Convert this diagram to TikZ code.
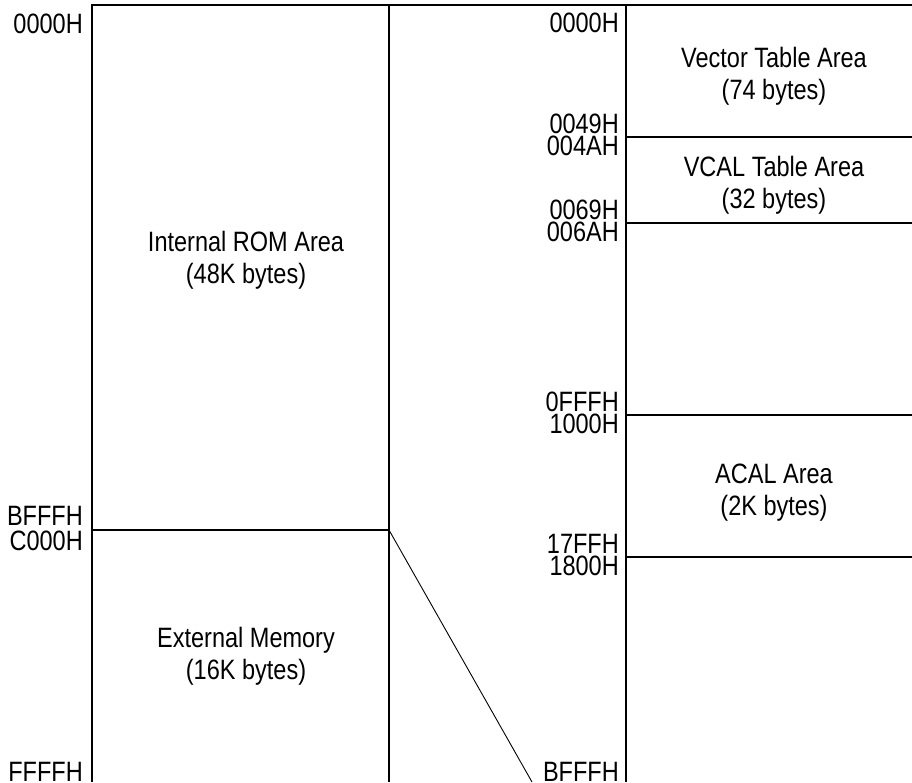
\documentclass[tikz,border=0pt]{standalone}
\usepackage{fontspec}
\setmainfont{Liberation Sans}[FakeStretch=0.84]

\begin{document}
\begin{tikzpicture}[x=1pt,y=-1pt,
    addr/.style={inner sep=0pt,anchor=base east,font=\fontsize{28}{30}\selectfont},
    area/.style={inner sep=0pt,anchor=base,align=center,font=\fontsize{28}{32}\selectfont},
    wall/.style={line width=1.5pt}]
      \useasboundingbox (0,0) rectangle (912,782);
      % outlines of both maps
      \draw[wall] (92,782)--(92,5)--(912,5);
      \draw[wall] (389,5)--(389,782);
      \draw[wall] (626,5)--(626,782);
      \draw[wall] (92,530)coordinate(romend)--(389,530)coordinate(romcut);
      \draw[wall] (626,137)--(912,137);
      \draw[wall] (626,223)--(912,223);
      \draw[wall] (626,415)--(912,415);
      \draw[wall] (626,557)--(912,557);
      \coordinate (mapend) at (532,782);
      \draw[line width=0.9pt] (romcut)--(mapend);

      % left map (base = last line)
      \node[addr] (l0000) at (83,33) {0000H};
      \node[addr] (lbfff) at (83,525) {BFFFH};
      \node[addr] (lc000) at (83,550) {C000H};
      \node[addr] (lffff) at (83,781) {FFFFH};
      \node[area] (rom) at (246,283) {Internal ROM Area\\(48K bytes)};
      \node[area] (ext) at (246,679) {External Memory\\(16K bytes)};

      % right map
      \node[addr] (r0000) at (619,32) {0000H};
      \node[addr] (r0049) at (619,133) {0049H};
      \node[addr] (r004a) at (619,155) {004AH};
      \node[addr] (r0069) at (619,219) {0069H};
      \node[addr] (r006a) at (619,241) {006AH};
      \node[addr] (r0fff) at (619,411) {0FFFH};
      \node[addr] (r1000) at (619,433) {1000H};
      \node[addr] (r17ff) at (619,553) {17FFH};
      \node[addr] (r1800) at (619,575) {1800H};
      \node[addr] (rbfff) at (619,781) {BFFFH};
      \node[area] (vect) at (774,99) {Vector Table Area\\(74 bytes)};
      \node[area] (vcal) at (774,208) {VCAL Table Area\\(32 bytes)};
      \node[area] (acal) at (774,515) {ACAL Area\\(2K bytes)};
\end{tikzpicture}
\end{document}
